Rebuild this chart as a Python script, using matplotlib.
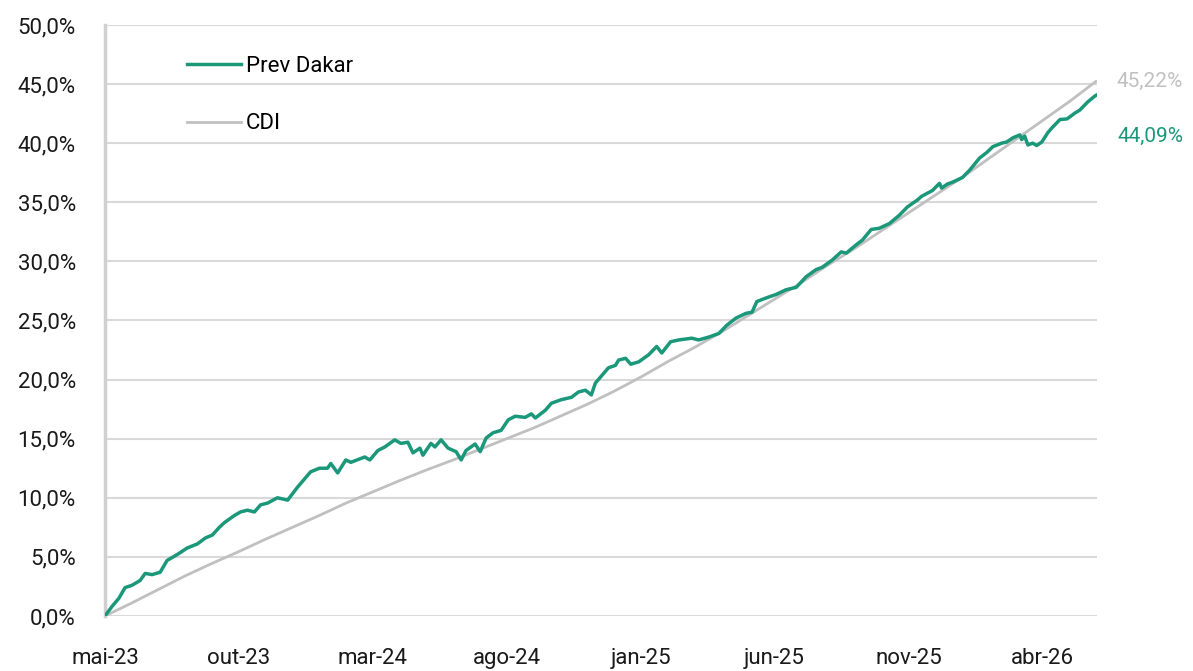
import matplotlib
matplotlib.use("Agg")
import matplotlib.pyplot as plt

# ========================================
# DADOS (meses desde mai-23, retorno acumulado em %)
# ========================================
tick_meses = [0, 5, 10, 15, 20, 25, 30, 35]
tick_labels = ["mai-23", "out-23", "mar-24", "ago-24", "jan-25", "jun-25", "nov-25", "abr-26"]

y_ticks = [0, 5, 10, 15, 20, 25, 30, 35, 40, 45, 50]
y_labels = ["0,0%", "5,0%", "10,0%", "15,0%", "20,0%", "25,0%", "30,0%",
            "35,0%", "40,0%", "45,0%", "50,0%"]

cdi_meses = list(range(38))
cdi_valores = [0.0, 1.1, 2.25, 3.4, 4.45, 5.45, 6.5, 7.5, 8.5, 9.55,
               10.5, 11.45, 12.35, 13.2, 14.1, 15.0, 15.9, 16.9, 17.9, 19.0,
               20.2, 21.5, 22.7, 24.0, 25.4, 26.8, 28.2, 29.7, 31.1, 32.6,
               34.1, 35.6, 37.1, 38.7, 40.3, 41.9, 43.5, 45.22]

dakar_meses = [0.0, 0.26, 0.52, 0.75, 1.01, 1.31, 1.50, 1.76, 2.06, 2.32,
               2.70, 3.07, 3.45, 3.75, 4.01, 4.27, 4.46, 4.83, 5.06, 5.32,
               5.58, 5.81, 6.07, 6.44, 6.82, 7.19, 7.68, 8.01, 8.31, 8.43,
               8.69, 8.99, 9.18, 9.70, 9.89, 10.19, 10.45, 10.82, 11.05, 11.31,
               11.50, 11.76, 11.87, 12.17, 12.32, 12.55, 12.81, 13.11, 13.30, 13.48,
               13.82, 14.01, 14.23, 14.49, 14.79, 15.06, 15.32, 15.69, 15.92, 16.07,
               16.44, 16.67, 17.04, 17.42, 17.68, 17.94, 18.16, 18.31, 18.50, 18.80,
               19.06, 19.18, 19.44, 19.63, 19.93, 20.30, 20.60, 20.79, 21.12, 21.42,
               21.91, 22.17, 22.55, 22.92, 23.22, 23.56, 23.93, 24.16, 24.34, 24.68,
               25.06, 25.43, 25.81, 26.18, 26.55, 26.78, 27.15, 27.49, 27.68, 28.05,
               28.28, 28.61, 28.91, 29.29, 29.66, 29.96, 30.34, 30.49, 30.90, 31.16,
               31.24, 31.46, 31.65, 32.02, 32.28, 32.66, 32.92, 33.15, 33.48, 33.67,
               33.90, 34.16, 34.23, 34.34, 34.46, 34.64, 34.79, 34.98, 35.21, 35.36,
               35.66, 35.92, 36.22, 36.40, 36.70, 36.97, 37.04]
dakar_valores = [0.0, 0.8, 1.5, 2.4, 2.6, 3.0, 3.6, 3.5, 3.7, 4.7,
                 5.2, 5.75, 6.1, 6.6, 6.85, 7.5, 7.9, 8.5, 8.8, 8.95,
                 8.8, 9.4, 9.55, 10.0, 9.8, 10.9, 12.2, 12.5, 12.5, 12.9,
                 12.1, 13.2, 13.0, 13.45, 13.2, 14.0, 14.3, 14.9, 14.6, 14.7,
                 13.8, 14.2, 13.6, 14.6, 14.3, 14.9, 14.2, 13.9, 13.2, 14.0,
                 14.55, 13.9, 15.05, 15.5, 15.7, 16.6, 16.9, 16.8, 17.1, 16.75,
                 17.4, 18.0, 18.3, 18.5, 18.95, 19.1, 18.7, 19.7, 20.2, 21.0,
                 21.2, 21.65, 21.8, 21.3, 21.5, 22.1, 22.8, 22.25, 23.2, 23.35,
                 23.5, 23.35, 23.6, 23.9, 24.6, 25.2, 25.6, 25.7, 26.6, 26.9,
                 27.2, 27.6, 27.8, 28.7, 29.3, 29.5, 30.1, 30.8, 30.7, 31.4,
                 31.8, 32.7, 32.8, 33.2, 33.9, 34.6, 35.2, 35.5, 36.0, 36.6,
                 36.2, 36.55, 36.7, 37.1, 37.7, 38.75, 39.2, 39.7, 40.0, 40.1,
                 40.45, 40.7, 40.3, 40.6, 39.85, 40.0, 39.8, 40.1, 40.9, 41.3,
                 42.0, 42.05, 42.55, 42.8, 43.5, 44.0, 44.09]

verde = "#1b9879"
cinza = "#c0c0c0"
texto = "#1a1a1a"

plt.rcParams["font.family"] = ["Roboto", "DejaVu Sans"]

fig = plt.figure(figsize=(11.93, 6.71), dpi=100)
ax = fig.add_axes([0.088, 0.082, 0.8315, 0.8808])

ax.plot(cdi_meses, cdi_valores, color=cinza, linewidth=2.0, label="CDI", zorder=2)
ax.plot(dakar_meses, dakar_valores, color=verde, linewidth=2.5, label="Prev Dakar", zorder=3)

ax.set_xlim(0, dakar_meses[-1])
ax.set_ylim(0, 50)
ax.set_yticks(y_ticks)
ax.set_yticklabels(y_labels)
ax.set_xticks(tick_meses)
ax.set_xticklabels(tick_labels)
ax.tick_params(axis="y", length=0, pad=21, labelsize=16, labelcolor=texto)
ax.tick_params(axis="x", length=0, pad=23, labelsize=16, labelcolor=texto)

ax.grid(axis="y", color="#d9d9d9", linewidth=1.5)
ax.set_axisbelow(True)
for lado in ["top", "right", "bottom"]:
    ax.spines[lado].set_visible(False)
ax.spines["left"].set_color("#d0d0d0")
ax.spines["left"].set_linewidth(2.5)

# rótulos finais
ax.annotate("45,22%", xy=(cdi_meses[-1], cdi_valores[-1]), xytext=(15, 0),
            textcoords="offset points", color=cinza, fontsize=15, va="center",
            annotation_clip=False)
ax.annotate("44,09%", xy=(dakar_meses[-1], dakar_valores[-1]), xytext=(15, -30),
            textcoords="offset points", color=verde, fontsize=15, va="center",
            annotation_clip=False)

handles, labels = ax.get_legend_handles_labels()
ax.legend(handles[::-1], labels[::-1], loc="upper left", bbox_to_anchor=(0.083, 0.948),
          frameon=False, fontsize=16, handlelength=2.4, handletextpad=0.25,
          labelspacing=1.65, borderpad=0, borderaxespad=0)

plt.savefig("out.png", dpi=100)
plt.close()
